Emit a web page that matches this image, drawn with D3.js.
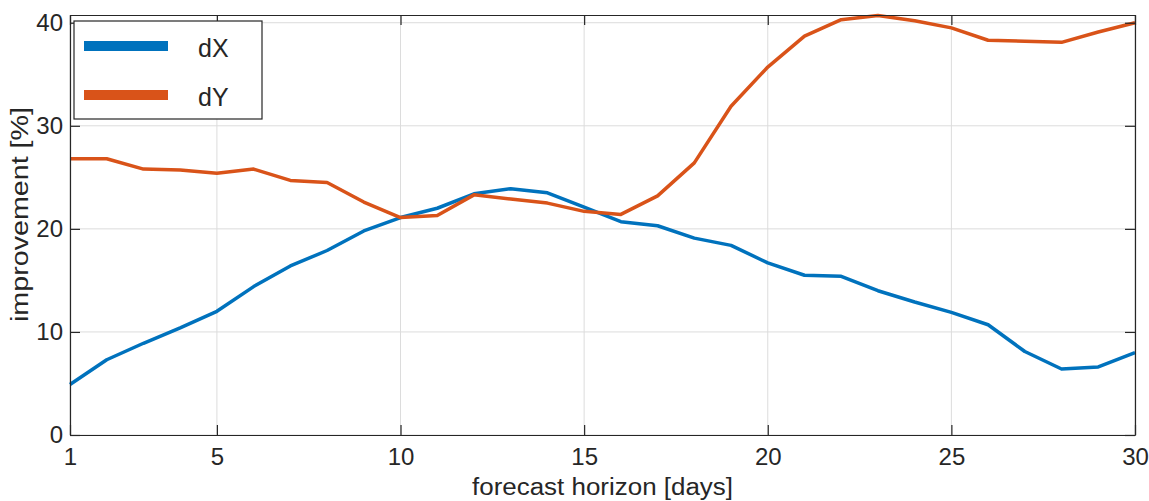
<!DOCTYPE html>
<html>
<head>
<meta charset="utf-8">
<script src="https://cdn.jsdelivr.net/npm/d3@7"></script>
<style>
  body { margin: 0; background: #fff; }
  svg text { font-family: "Liberation Sans", Arial, sans-serif; fill: #262626; }
</style>
</head>
<body>
<div id="chart"></div>
<script>
// data
var days = d3.range(1, 31);
var dX = [4.9, 7.3, 8.9, 10.4, 12.0, 14.4, 16.4, 17.9, 19.8, 21.1,
          22.0, 23.4, 23.9, 23.5, 22.1, 20.7, 20.3, 19.1, 18.4, 16.7,
          15.5, 15.4, 14.0, 12.9, 11.9, 10.7, 8.1, 6.4, 6.6, 8.0];
var dY = [26.8, 26.8, 25.8, 25.7, 25.4, 25.8, 24.7, 24.5, 22.6, 21.1,
          21.3, 23.3, 22.9, 22.5, 21.7, 21.4, 23.2, 26.4, 31.9, 35.7,
          38.7, 40.3, 40.7, 40.2, 39.5, 38.3, 38.2, 38.1, 39.1, 40.0];
var seriesNames = ["dX", "dY"];
var seriesColors = ["#0072BD", "#D95319"];
var xTicks = [1, 5, 10, 15, 20, 25, 30];
var yTicks = [0, 10, 20, 30, 40];

// set the dimensions and margins of the graph
var margin = {top: 15, right: 14, bottom: 66, left: 70},
    width = 1149 - margin.left - margin.right,
    height = 501 - margin.top - margin.bottom;

var svg = d3.select("#chart")
    .append("svg")
    .attr("width", 1149)
    .attr("height", 501)
    .append("g")
    .attr("transform", "translate(" + margin.left + "," + margin.top + ")");

var x = d3.scaleLinear().domain([1, 30]).range([0, width]);
var y = d3.scaleLinear().domain([0, 40.75]).range([height, 0]);

// grid
svg.append("g")
    .selectAll("line.vgrid")
    .data(xTicks)
    .enter().append("line")
    .attr("x1", function(d) { return x(d); })
    .attr("x2", function(d) { return x(d); })
    .attr("y1", 0).attr("y2", height)
    .attr("stroke", "#dcdcdc").attr("stroke-width", 1);
svg.append("g")
    .selectAll("line.hgrid")
    .data(yTicks)
    .enter().append("line")
    .attr("y1", function(d) { return y(d); })
    .attr("y2", function(d) { return y(d); })
    .attr("x1", 0).attr("x2", width)
    .attr("stroke", "#dcdcdc").attr("stroke-width", 1);

// lines
var allData = [dX, dY];
var line = d3.line()
    .x(function(d, i) { return x(days[i]); })
    .y(function(d) { return y(d); });
svg.selectAll("path.series")
    .data(allData)
    .enter().append("path")
    .attr("class", "series")
    .attr("fill", "none")
    .attr("stroke", function(d, i) { return seriesColors[i]; })
    .attr("stroke-width", 3.5)
    .attr("stroke-linejoin", "round")
    .attr("d", line);

// axes (ticks point inward, mirrored on the box)
var tl = 10;
function styleAxis(g) {
    g.selectAll("path.domain").attr("stroke", "#262626").attr("stroke-width", 1.2);
    g.selectAll(".tick line").attr("stroke", "#262626").attr("stroke-width", 1.2);
    g.selectAll("text").style("font-size", "24px").attr("fill", "#262626");
}
svg.append("g")
    .attr("transform", "translate(0," + height + ")")
    .call(d3.axisBottom(x).tickValues(xTicks).tickSizeInner(-tl).tickSizeOuter(0).tickPadding(13))
    .call(styleAxis);
svg.append("g")
    .call(d3.axisTop(x).tickValues(xTicks).tickSizeInner(-tl).tickSizeOuter(0).tickFormat(""))
    .call(styleAxis);
svg.append("g")
    .call(d3.axisLeft(y).tickValues(yTicks).tickSizeInner(-tl).tickSizeOuter(0).tickPadding(7))
    .call(styleAxis);
svg.append("g")
    .attr("transform", "translate(" + width + ",0)")
    .call(d3.axisRight(y).tickValues(yTicks).tickSizeInner(-tl).tickSizeOuter(0).tickFormat(""))
    .call(styleAxis);

// axis labels
svg.append("text")
    .attr("x", width / 2)
    .attr("y", 480)
    .attr("text-anchor", "middle")
    .attr("textLength", 261)
    .attr("lengthAdjust", "spacingAndGlyphs")
    .style("font-size", "23px")
    .text("forecast horizon [days]");
svg.append("text")
    .attr("transform", "translate(" + (-42) + "," + 199.5 + ") rotate(-90)")
    .attr("text-anchor", "middle")
    .attr("textLength", 215)
    .attr("lengthAdjust", "spacingAndGlyphs")
    .style("font-size", "23px")
    .text("improvement [%]");

// legend
var legend = svg.append("g").attr("transform", "translate(4,6)");
legend.append("rect")
    .attr("width", 188).attr("height", 98)
    .attr("fill", "#fff")
    .attr("stroke", "#262626").attr("stroke-width", 1.2);
seriesNames.forEach(function(name, i) {
    var ly = 25 + i * 49;
    legend.append("line")
        .attr("x1", 10).attr("x2", 94)
        .attr("y1", ly).attr("y2", ly)
        .attr("stroke", seriesColors[i])
        .attr("stroke-width", 10);
    legend.append("text")
        .attr("x", 124).attr("y", ly + 10.5)
        .style("font-size", "25px")
        .text(name);
});
</script>
</body>
</html>
